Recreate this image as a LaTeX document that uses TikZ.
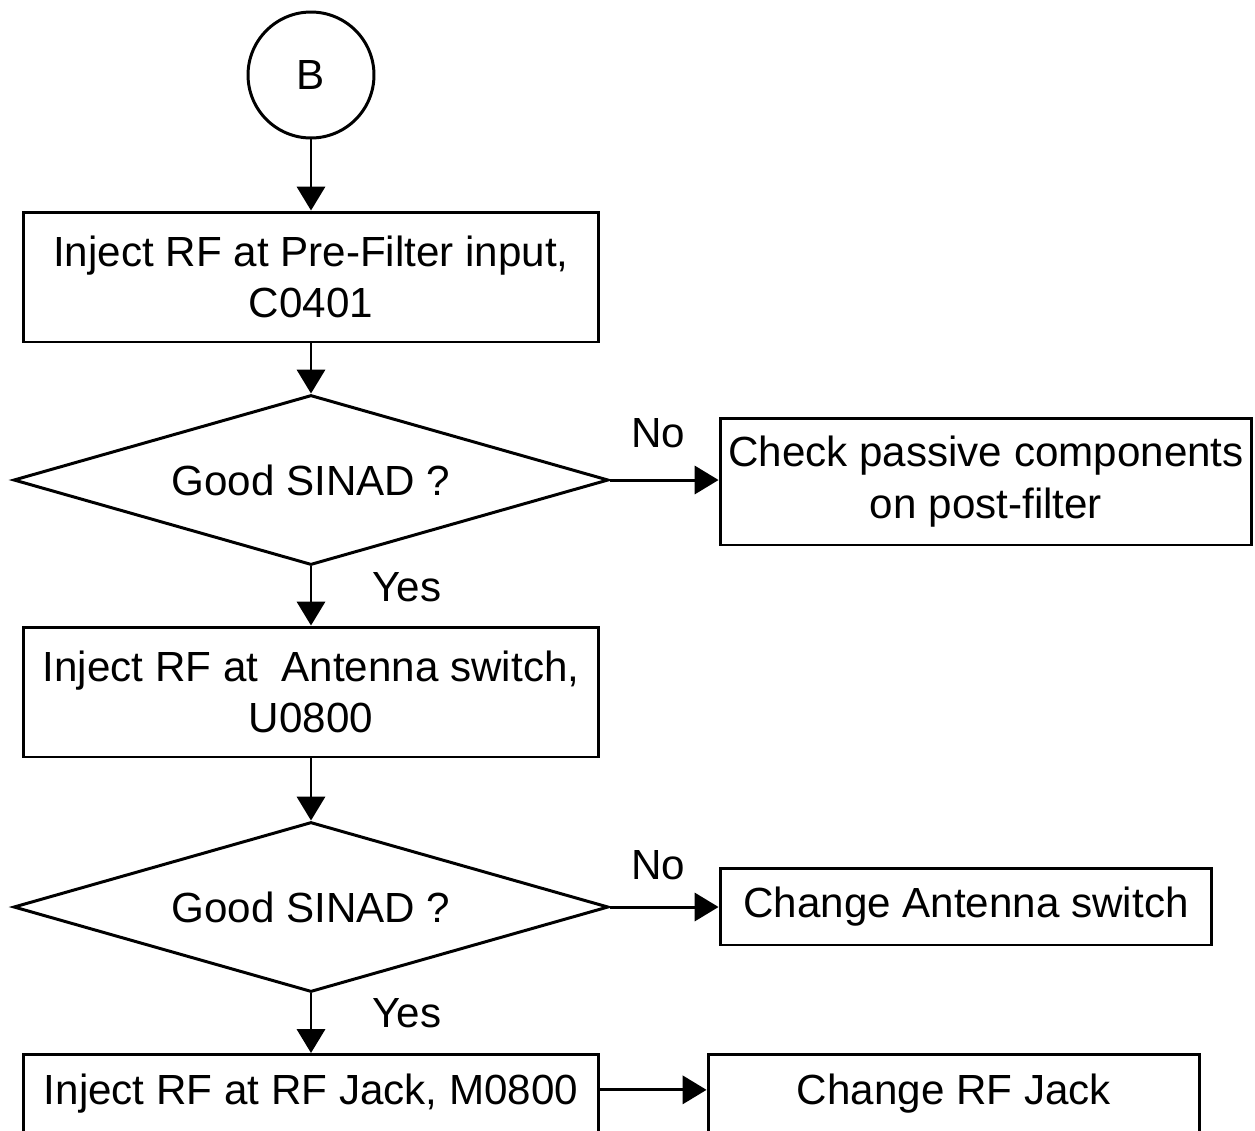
\documentclass[tikz,border=0pt]{standalone}
\usepackage{fontspec}
\setmainfont{Liberation Sans}
\usetikzlibrary{shapes.geometric,arrows.meta}
\begin{document}
\begin{tikzpicture}[x=0.02cm,y=-0.02cm,
  line width=1.7pt,font=\fontsize{24}{29.5}\selectfont,
  box/.style={rectangle,draw,align=center,minimum width=11.5cm,minimum height=2.6cm,inner sep=0},
  decision/.style={diamond,draw,aspect=3.5,minimum width=11.9cm,minimum height=3.4cm,inner sep=0},
  cut box/.style={box,anchor=north,text height=0.62cm,text depth=3cm,inner ysep=0.38cm},
  arrow/.style={-{Triangle[length=13.6pt,width=16pt]}}]

  \useasboundingbox (0,0) rectangle (1255,1130);
  \clip (0,0) rectangle (1255,1130);

  \node[circle,draw,minimum size=2.52cm] (B) at (311,75) {B};
  \node[box] (inj1) at (311,277) {Inject RF at Pre-Filter input,\\C0401};
  \node[decision] (sinad1) at (311,480) {Good SINAD ?};
  \node[box,minimum width=10.64cm,minimum height=2.54cm] (passive) at (986,481.5) {Check passive components\\on post-filter};
  \node[box] (inj2) at (311,692) {Inject RF at~~Antenna switch,\\U0800};
  \node[decision] (sinad2) at (311,907) {Good SINAD ?};
  \node[box,minimum width=9.84cm,minimum height=1.54cm] (antsw) at (966,906.5) {Change Antenna switch};
  \node[cut box] (inj3) at (311,1053) {Inject RF at RF Jack, M0800};
  \node[cut box,minimum width=9.84cm] (jack) at (954,1053) {Change RF Jack};

  \node (no1) at (658,433) {No};
  \node (yes1) at (407,587) {Yes};
  \node (no2) at (658,865) {No};
  \node (yes2) at (407,1013) {Yes};

  \draw[arrow] (B) -- (inj1);
  \draw[arrow] (inj1) -- (sinad1);
  \draw[arrow] (sinad1.east) -- (sinad1.east -| passive.west);
  \draw[arrow] (sinad1) -- (inj2);
  \draw[arrow] (inj2) -- (sinad2);
  \draw[arrow] (sinad2.east) -- (sinad2.east -| antsw.west);
  \draw[arrow] (sinad2) -- (inj3);
  \draw[arrow] ([yshift=0.2cm]inj3.mid east) -- ([yshift=0.2cm]jack.mid west);
\end{tikzpicture}
\end{document}
